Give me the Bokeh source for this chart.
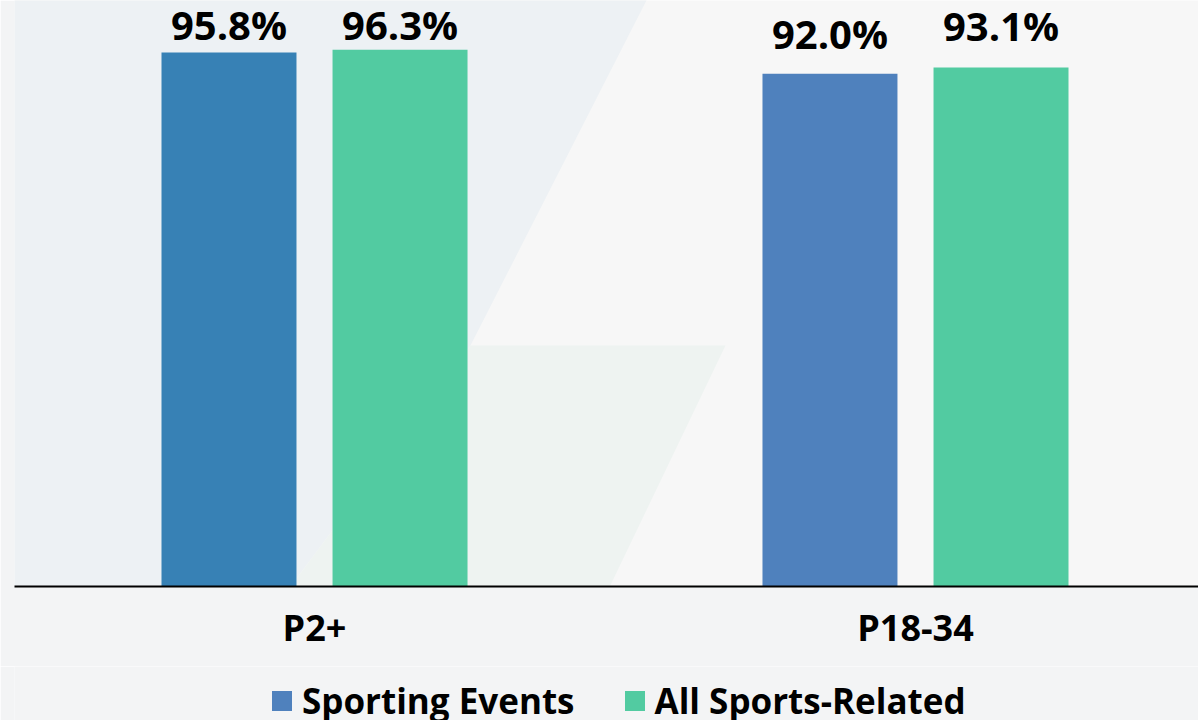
from bokeh.plotting import figure
from bokeh.models import (ColumnDataSource, Range1d, FixedTicker, Legend, LegendItem,
                          PolyAnnotation)
from bokeh.layouts import column
from bokeh.embed import file_html
from bokeh.resources import INLINE
from bokeh.core.properties import value
from bokeh.transform import dodge

# ---- data ----
categories = ["P2+", "P18-34"]
series_names = ["Sporting Events", "All Sports-Related"]
sporting_events = [95.8, 92.0]
all_sports_related = [96.3, 93.1]

# ---- styles ----
sporting_colors = ["#3781b5", "#4f81bd"]
related_colors = ["#52cba1", "#52cba1"]
sporting_label_offsets = [-28, -40]
related_label_offsets = [-25.5, -42]
FONT = "Open Sans"
BORDER_BG = "#f3f4f5"

idx = list(range(len(categories)))
src = ColumnDataSource(dict(
    x=idx,
    se=sporting_events,
    sr=all_sports_related,
    se_col=sporting_colors,
    sr_col=related_colors,
    se_lbl=[f"{v:.1f}%" for v in sporting_events],
    sr_lbl=[f"{v:.1f}%" for v in all_sports_related],
    se_off=sporting_label_offsets,
    sr_off=related_label_offsets,
))

p = figure(frame_width=1184, frame_height=586,
           x_range=Range1d(-0.4992, 1.4709), y_range=Range1d(0, 105.13),
           output_backend="svg", toolbar_location=None,
           min_border_left=14, min_border_right=0, min_border_top=0, min_border_bottom=80,
           y_axis_location=None)
p.background_fill_color = "#f7f7f7"
p.border_fill_color = BORDER_BG
p.outline_line_color = None
p.grid.visible = False

# faint background shapes (frame-relative screen units, y up)
bg_shapes = [
    ([-14, 636, 456, 176, -14], [594, 594, 241, -134, -134], "#edf1f4"),
    ([456, 711, 531, 176], [241, 241, -134, -134], "#eef3f1"),
]
for xs, ys, col in bg_shapes:
    p.add_layout(PolyAnnotation(xs=xs, ys=ys, xs_units="screen", ys_units="screen",
                                fill_color=col, fill_alpha=1.0, line_alpha=0,
                                level="underlay"))

off = 0.1423
bw = 0.2246
r1 = p.vbar(x=dodge("x", -off, range=p.x_range), top="se", width=bw, source=src,
            fill_color="se_col", line_color=None)
r2 = p.vbar(x=dodge("x", off, range=p.x_range), top="sr", width=bw, source=src,
            fill_color="sr_col", line_color=None)

for xo, yf, tf, of in [(-off, "se", "se_lbl", "se_off"), (off, "sr", "sr_lbl", "sr_off")]:
    p.text(x=dodge("x", xo, range=p.x_range), y=yf, text=tf, y_offset=of, source=src,
           text_align="center", text_baseline="alphabetic",
           text_font=value(FONT), text_font_style="bold", text_font_size="40px",
           text_color="black")

ax = p.xaxis[0]
ax.ticker = FixedTicker(ticks=idx)
ax.major_label_overrides = {i: c for i, c in zip(idx, categories)}
ax.major_label_text_font = FONT
ax.major_label_text_font_style = "bold"
ax.major_label_text_font_size = "36px"
ax.major_label_text_color = "black"
ax.major_label_standoff = 16
ax.major_tick_line_color = None
ax.minor_tick_line_color = None
ax.major_tick_out = 0
ax.major_tick_in = 0
ax.axis_line_color = "black"
ax.axis_line_width = 2

# ---- legend strip (same series, bars kept out of its visible range) ----
lg = figure(width=1198, height=54, x_range=p.x_range, y_range=Range1d(1000, 1001),
            output_backend="svg", toolbar_location=None,
            min_border_left=0, min_border_right=0, min_border_top=0, min_border_bottom=0,
            x_axis_location=None, y_axis_location=None)
lg.background_fill_color = BORDER_BG
lg.border_fill_color = BORDER_BG
lg.outline_line_color = None
lg.grid.visible = False
l1 = lg.vbar(x=dodge("x", -off, range=lg.x_range), top="se", width=bw, source=src,
             fill_color="se_col", line_color=None)
l2 = lg.vbar(x=dodge("x", off, range=lg.x_range), top="sr", width=bw, source=src,
             fill_color="sr_col", line_color=None)

legend = Legend(items=[LegendItem(label=series_names[0], renderers=[l1], index=1),
                       LegendItem(label=series_names[1], renderers=[l2], index=0)],
                orientation="horizontal", location=(255, -4),
                label_text_font=FONT, label_text_font_style="bold",
                label_text_font_size="35px", label_text_color="black",
                glyph_width=25, glyph_height=25, label_standoff=8, spacing=47,
                padding=0, margin=0, background_fill_alpha=0, border_line_alpha=0)
lg.add_layout(legend, "center")

open("out.html", "w").write(file_html(column(p, lg, spacing=0), INLINE))
